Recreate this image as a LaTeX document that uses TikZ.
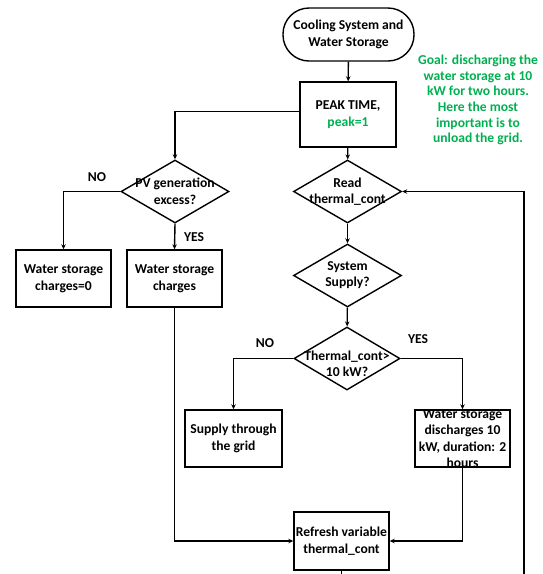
\documentclass[tikz,border=0pt]{standalone}
\usepackage{fontspec}
\setmainfont{Carlito}
\usetikzlibrary{shapes.geometric,arrows.meta}
\definecolor{goalgreen}{RGB}{0,176,80}
\begin{document}
\begin{tikzpicture}[x=1pt,y=-1pt,
  every node/.style={font=\bfseries\fontsize{13.6}{16.5}\selectfont, align=center},
  box/.style={draw, line width=1.4pt, minimum width=95pt, minimum height=57pt, inner sep=1pt},
  dec/.style={draw, diamond, line width=1.4pt, minimum width=108pt, minimum height=63pt, inner sep=0pt},
  term/.style={draw, rounded corners=26pt, line width=1.4pt, minimum width=131pt, minimum height=53pt},
  conn/.style={line width=1.4pt, -{Stealth[length=5pt,width=4.5pt]}},
  txt/.style={inner sep=0pt},
  lab/.style={inner sep=0pt}]
\useasboundingbox (0,0) rectangle (542,574);
\clip (0,0) rectangle (542,574);

% nodes
\node[term] (start) at (348.5,34.5) {Cooling System and\\Water Storage};
\node[box, minimum width=96pt, minimum height=65pt] (peak) at (348,114.5) {PEAK TIME,\\\textcolor{goalgreen}{peak=1}};
\node[txt, text=goalgreen, font=\bfseries\fontsize{13.6}{15.6}\selectfont] (goal) at (478,100) {Goal: discharging the\\water storage at 10\\kW for two hours.\\Here the most\\important is to\\unload the grid.};

\node[dec] (pv) at (175,191.5) {};
\node[txt] (pvt) at (175,191.5) {PV generation\\excess?};
\node[dec] (read) at (347.5,191.5) {};
\node[txt] (readt) at (347.5,191.5) {Read\\thermal\_cont};
\node[dec] (sys) at (347.5,275.5) {};
\node[txt] (syst) at (347.5,275) {System\\Supply?};
\node[dec, minimum width=106pt] (therm) at (347,358.5) {};
\node[txt] (thermt) at (347,364) {Thermal\_cont>\\10 kW?};

\node[box] (wsc0) at (63.5,278.5) {Water storage\\charges=0};
\node[box] (wsc) at (174.5,278.5) {Water storage\\charges};
\node[box, minimum width=97pt] (grid) at (233.5,438.5) {Supply through\\the grid};
\node[box] (dis) at (462.5,438.5) {};
\node[txt] (dist) at (462.5,438.5) {Water storage\\discharges 10\\kW, duration: 2\\hours};
\node[box, minimum height=58pt] (ref) at (341.5,541) {Refresh variable\\thermal\_cont};

% labels
\node[lab] (no1) at (97,177) {NO};
\node[lab] (yes1) at (194,237) {YES};
\node[lab] (no2) at (265,343) {NO};
\node[lab] (yes2) at (418,339) {YES};

\coordinate (loopc) at (524,600);

% connectors
\draw[conn] (start) -- (peak);
\draw[conn] ([yshift=3pt]peak.west) -| (pv.north);
\draw[conn] (peak) -- (read);
\draw[conn] (read) -- (sys);
\draw[conn] (sys) -- (therm);
\draw[conn] (pv.west) -| (wsc0.north);
\draw[conn] (pv.south) -- (wsc.north);
\draw[conn] (therm.west) -| (grid.north);
\draw[conn] (therm.east) -| (dis.north);
\draw[conn] (wsc.south) |- (ref.west);
\draw[conn] (dis.south) |- (ref.east);
\draw[line width=1.4pt] (ref.south) |- (loopc);
\draw[conn] (loopc) |- (read.east);
\end{tikzpicture}
\end{document}
